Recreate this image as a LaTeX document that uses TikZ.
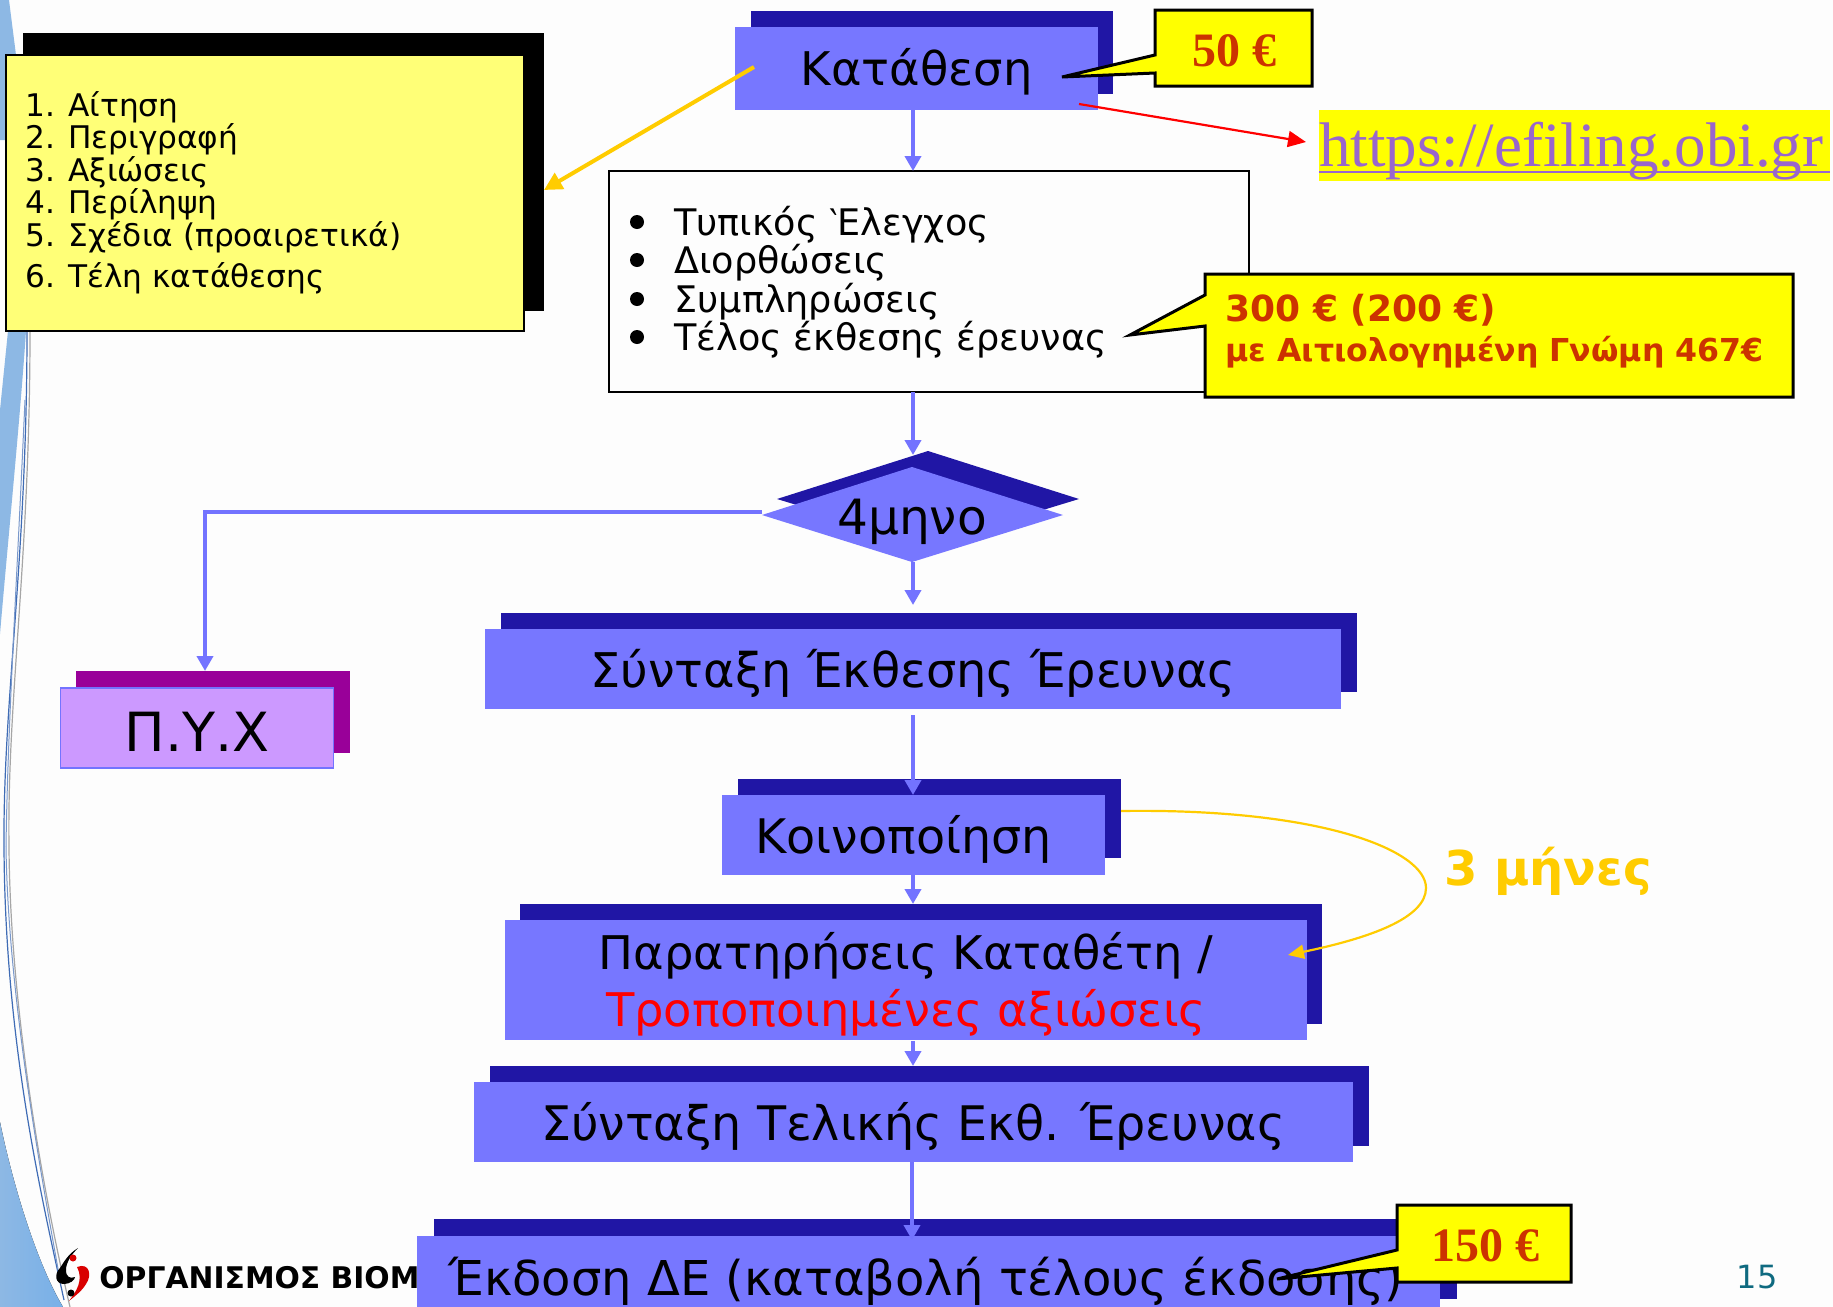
\documentclass[tikz,border=0pt]{standalone}
\usepackage{fontspec}
\setmainfont{DejaVu Sans}
\newfontfamily\timesf{Liberation Serif}
\usetikzlibrary{arrows.meta}
\definecolor{bgc}{HTML}{FDFDFD}
\definecolor{boxblue}{HTML}{7777FF}
\definecolor{darkblue}{HTML}{2016A5}
\definecolor{arrowblue}{HTML}{7373FF}
\definecolor{listyellow}{HTML}{FFFF77}
\definecolor{calloutyellow}{HTML}{FFFF00}
\definecolor{lilac}{HTML}{CC99FF}
\definecolor{plum}{HTML}{990099}
\definecolor{feecol}{HTML}{CC3300}
\definecolor{gold}{HTML}{FFCC00}
\definecolor{linkc}{HTML}{9966CC}
\definecolor{numc}{HTML}{0F6A80}
\definecolor{sideblue}{HTML}{8DB8E4}
\definecolor{sidelow}{HTML}{78B0E8}
\definecolor{swirl}{HTML}{3F6CB5}
\newcommand{\fs}[1]{\fontsize{#1}{#1}\selectfont}
\newcommand{\dn}[2]{\raisebox{0pt}[\dimexpr\height+#1+#1\relax][\depth]{#2}}
\tikzset{
 x=0.5pt,y=-0.5pt,
 back/.style={fill=darkblue,draw=none},
 front/.style={fill=boxblue,draw=none},
 callout/.style={fill=calloutyellow,draw=black,line width=1.5pt,line join=miter},
 flow/.style={draw=arrowblue,line width=2pt,-{Triangle[length=7.5pt,width=8pt]}},
 lbl/.style={inner sep=0pt,outer sep=0pt,align=center,anchor=center},
 fee/.style={lbl,text=feecol,font=\timesf\bfseries\fs{24}},
}
\begin{document}
\begin{tikzpicture}
\useasboundingbox (0,0) rectangle (1833,1307);
\fill[bgc] (0,0) rectangle (1833,1307);
% side decoration
\fill[sideblue] (0,0) -- (9,0) -- (16,55) -- (10,140) -- (0,140) -- cycle;
\fill[sideblue] (8,331) -- (26,331) .. controls (20,420) and (8,540) .. (0,634) -- (0,410) -- cycle;
\fill[left color=sideblue,right color=sidelow] (0,1122) .. controls (14,1190) and (38,1265) .. (63,1307) -- (0,1307) -- cycle;
\draw[gray!70,line width=0.6pt] (30,331) .. controls (30,560) and (7,700) .. (9,846) .. controls (10,1000) and (40,1180) .. (70,1307);
\draw[swirl,line width=0.6pt] (27,331) .. controls (27,560) and (3,700) .. (4,846) .. controls (5,1040) and (40,1190) .. (64,1300);
\draw[swirl!70!white,line width=0.5pt] (25,400) .. controls (16,600) and (8,720) .. (6,846) .. controls (8,1000) and (44,1190) .. (60,1280);
% logo
\fill[black] (78,1248) .. controls (68,1254) and (64,1262) .. (60,1268) .. controls (54,1274) and (55,1284) .. (64,1284) .. controls (70,1284) and (75,1280) .. (75,1277) .. controls (70,1279) and (66,1277) .. (66,1270) .. controls (66,1262) and (72,1254) .. (78,1248) -- cycle;
\fill[red!85!black] (77,1267) .. controls (90,1262) and (92,1276) .. (86,1284) .. controls (82,1291) and (75,1296) .. (69,1301) .. controls (76,1292) and (84,1280) .. (77,1267) -- cycle;
\fill[red!85!black] (73,1258) circle (3.5);
\fill[black] (71,1293) circle (3.5);
\node[anchor=base west,inner sep=0pt,font=\bfseries\fs{14.9}] (logotext) at (99,1288) {ΟΡΓΑΝΙΣΜΟΣ ΒΙΟΜ};
\node[lbl,text=numc,font=\fs{16}] (pageno) at (1757,1277) {15};

% list box
\fill[black] (23,33) rectangle (544,311);
\draw[black,fill=listyellow,line width=0.9pt] (6,55) rectangle (524,331);
\foreach \t/\yy in {1. Αίτηση/116,2. Περιγραφή/148,3. Αξιώσεις/181,4. Περίληψη/213,5. Σχέδια (προαιρετικά)/246,6. Τέλη κατάθεσης/287}{
 \node[anchor=base west,inner sep=0pt,font=\fs{15.6}] at (25,\yy) {\t};
}

% white box
\draw[black,line width=0.9pt,fill=bgc] (609,171) rectangle (1249,392);
\foreach \t/\yy in {Τυπικός ‵Ελεγχος/235,Διορθώσεις/273,Συμπληρώσεις/312,Τέλος έκθεσης έρευνας/350}{
 \node[anchor=base west,inner sep=0pt,font=\fs{18.3}] at (674,\yy) {\t};
 \fill[black] (637,\yy-13) circle (7);
}
\coordinate (wtop) at (913,171);
\coordinate (wbot) at (913,392);

% Katathesi
\fill[back] (751,11) rectangle (1113,94);
\node[front,minimum width=181.5pt,minimum height=41.5pt,inner sep=0pt,font=\fs{23.2}] (katathesi) at (916.5,68.5) {\dn{1.75pt}{Κατάθεση}};

% flow connectors
\draw[flow] (katathesi.south -| wtop) -- (wtop);
\coordinate (dtop) at (913,455);
\draw[flow] (wbot) -- (dtop);

% diamond
\fill[back] (777,499) -- (928,451) -- (1079,499) -- (928,545) -- cycle;
\fill[front] (762,515) -- (912,467) -- (1063,515) -- (912,562) -- cycle;
\coordinate (dleft) at (762,512);
\coordinate (dbot) at (913,562);
\node[anchor=base,inner sep=0pt,font=\fs{24.3}] (tetramino) at (912,534) {4μηνο};

% PYX
\fill[plum] (76,671) rectangle (350,753);
\node[draw=arrowblue,line width=0.8pt,fill=lilac,minimum width=136.5pt,minimum height=40pt,inner sep=0pt,font=\fs{27}] (pyx) at (197,728) {\dn{1.75pt}{Π.Υ.Χ}};
\coordinate (pyxtop) at (205,671);
\draw[flow] (dleft) -- (205,512) -- (pyxtop);

% Syntaxi
\fill[back] (501,613) rectangle (1357,692);
\node[front,minimum width=428pt,minimum height=40pt,inner sep=0pt,font=\fs{23.9}] (syntaxi) at (913,669) {\dn{2.3pt}{Σύνταξη Έκθεσης Έρευνας}};
\draw[flow] (dbot) -- (913,605);

% Koinopoiisi
\fill[back] (738,779) rectangle (1121,858);
\node[front,minimum width=191.5pt,minimum height=40pt,inner sep=0pt,font=\fs{23.8}] (koin) at (913,835) {\hspace*{-9.4pt}\dn{2.3pt}{Κοινοποίηση}};
\draw[flow] (913,715) -- (913,795);

% Paratiriseis
\fill[back] (520,904) rectangle (1322,1024);
\node[front,minimum width=401pt,minimum height=60pt,inner sep=0pt] (parat) at (906,980) {};
\node[lbl,font=\fontsize{23.2}{28.6}\selectfont] (parattext) at (906,984) {Παρατηρήσεις Καταθέτη /\\\textcolor{red}{Τροποποιημένες αξιώσεις}};
\draw[flow] (913,875) -- (913,904);

% Syntaxi Telikis
\fill[back] (490,1066) rectangle (1369,1146);
\node[front,minimum width=439.5pt,minimum height=40pt,inner sep=0pt,font=\fs{23.8}] (telik) at (913,1122) {\dn{2.3pt}{Σύνταξη Τελικής Εκθ. Έρευνας}};
\draw[flow] (913,1041) -- (913,1066);

% Ekdosi
\fill[back] (434,1219) rectangle (1457,1299);
\node[front,minimum width=511.5pt,minimum height=40pt,inner sep=0pt,anchor=north west] (ekdosi) at (417,1236) {};
\draw[flow] (912,1162) -- (912,1240);
\node[lbl,font=\fs{24}] (ekdositext) at (926,1281) {Έκδοση ΔΕ (καταβολή τέλους έκδοσης)};

% arrows
\coordinate (karrow) at (754,67);
\coordinate (larrow) at (544,190);
\draw[gold,line width=2pt,-{Triangle[length=9pt,width=9pt]}] (karrow) -- (larrow);
\coordinate (urlarrow) at (1306,142);
\draw[red,line width=1.1pt,-{Triangle[length=9pt,width=8pt]}] (1079,104) -- (urlarrow);
\draw[gold,line width=1.1pt,-{Triangle[length=8pt,width=7pt]}] (1121,811) .. controls (1320,808) and (1426,850) .. (1426,888) .. controls (1426,918) and (1370,938) .. (1288,955);
\node[lbl,text=gold,font=\bfseries\fs{24}] (months) at (1548,871) {3 μήνες};

% url
\fill[calloutyellow] (1319,110) rectangle (1830,181);
\node[anchor=base west,inner sep=0pt,text=linkc,font=\timesf\fs{31.5}] (url) at (1319,166) {https://efiling.obi.gr};
\draw[linkc,line width=1.2pt] (1319,172) -- (1830,172);

% callouts
\draw[callout] (1155,10) -- (1312,10) -- (1312,86) -- (1155,86) -- (1155,73) -- (1062,77) -- (1155,55) -- cycle;
\node[fee] (fee50) at (1234,51) {50 €};
\draw[callout] (1205,274) -- (1793,274) -- (1793,397) -- (1205,397) -- (1205,326) -- (1130,335) -- (1205,295) -- cycle;
\node[anchor=base west,inner sep=0pt,text=feecol,font=\bfseries\fs{18}] (fee300) at (1225,321) {300 € (200 €)};
\node[anchor=base west,inner sep=0pt,text=feecol,font=\bfseries\fs{15.8}] (feegnomi) at (1225,361) {με Αιτιολογημένη Γνώμη 467€};
\draw[callout] (1397,1205) -- (1571,1205) -- (1571,1282) -- (1397,1282) -- (1397,1268) -- (1277,1279) -- (1397,1250) -- cycle;
\node[fee] (fee150) at (1485,1246) {150 €};
\end{tikzpicture}
\end{document}
